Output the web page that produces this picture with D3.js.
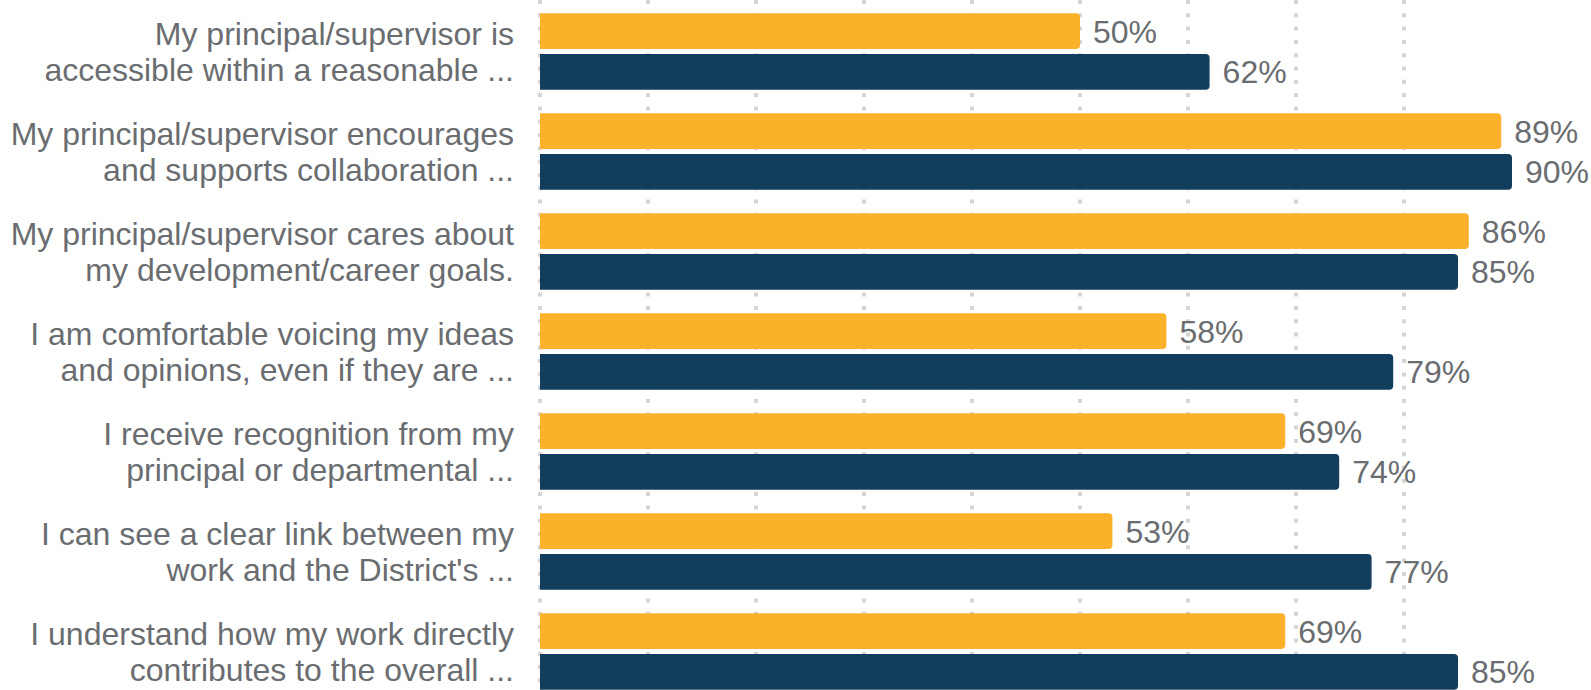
<!DOCTYPE html>
<html>
<head>
<meta charset="utf-8">
<script src="https://cdn.jsdelivr.net/npm/d3@7"></script>
<style>
  body { margin: 0; background: #fff; }
  svg { display: block; }
</style>
</head>
<body>
<div id="chart"></div>
<script>
// survey statements (the chart truncates them to two lines)
const categories = [
  'My principal/supervisor is\naccessible within a reasonable ...',
  'My principal/supervisor encourages\nand supports collaboration ...',
  'My principal/supervisor cares about\nmy development/career goals.',
  'I am comfortable voicing my ideas\nand opinions, even if they are ...',
  'I receive recognition from my\nprincipal or departmental ...',
  'I can see a clear link between my\nwork and the District\'s ...',
  'I understand how my work directly\ncontributes to the overall ...'
];
const seriesNames = ['Series 1', 'Series 2'];
const series1Values = [50, 89, 86, 58, 69, 53, 69];
const series2Values = [62, 90, 85, 79, 74, 77, 85];
const gridTicks = [0, 10, 20, 30, 40, 50, 60, 70, 80];

const config = {
  width: 1591,
  height: 690,
  plotLeft: 540,
  pxPerPercent: 10.8,
  rowTop: 1.3,
  rowStep: 100,
  groupTop: 12,
  groupBottom: 88.5,
  labelRight: 514,
  fontSize: 32,
  lineGap: 35.5,
  colors: ['#fbb12a', '#133d5d'],
  textColor: '#6a6d70',
  gridColor: '#d5d5d5'
};

const data = categories.map((c, i) => ({
  category: c,
  values: [series1Values[i], series2Values[i]]
}));

const svg = d3.select('#chart')
  .append('svg')
  .attr('width', config.width)
  .attr('height', config.height)
  .style('font-family', '"Liberation Sans", Arial, sans-serif');

const x = d3.scaleLinear()
  .domain([0, 100])
  .range([config.plotLeft, config.plotLeft + 100 * config.pxPerPercent]);

const y = d3.scaleBand()
  .domain(categories)
  .range([config.rowTop, config.rowTop + config.rowStep * categories.length])
  .padding(0);

const ySub = d3.scaleBand()
  .domain(seriesNames)
  .range([config.groupTop, config.groupBottom])
  .paddingInner(0.12);

// dotted vertical gridlines
svg.append('g')
  .selectAll('line')
  .data(gridTicks)
  .join('line')
  .attr('x1', d => x(d))
  .attr('x2', d => x(d))
  .attr('y1', 0)
  .attr('y2', config.height)
  .attr('stroke', config.gridColor)
  .attr('stroke-width', 4)
  .attr('stroke-dasharray', '4 9.3');

// bar with rounded right end
function barPath(x0, y0, w, h, r) {
  r = Math.min(r, w);
  return `M${x0},${y0}H${x0 + w - r}Q${x0 + w},${y0} ${x0 + w},${y0 + r}` +
    `V${y0 + h - r}Q${x0 + w},${y0 + h} ${x0 + w - r},${y0 + h}H${x0}Z`;
}

const rows = svg.append('g')
  .selectAll('g')
  .data(data)
  .join('g')
  .attr('transform', d => `translate(0,${y(d.category)})`);

rows.selectAll('path')
  .data(d => d.values.map((v, k) => ({ name: seriesNames[k], value: v, k })))
  .join('path')
  .attr('d', d => barPath(x(0), ySub(d.name), x(d.value) - x(0), ySub.bandwidth(), 4))
  .attr('fill', d => config.colors[d.k]);

// value labels
rows.selectAll('text.value')
  .data(d => d.values.map((v, k) => ({ name: seriesNames[k], value: v })))
  .join('text')
  .attr('class', 'value')
  .attr('x', d => x(d.value) + 13)
  .attr('y', d => ySub(d.name) + ySub.bandwidth() / 2 + config.fontSize * 0.36)
  .attr('font-size', config.fontSize)
  .attr('fill', config.textColor)
  .text(d => d3.format('.0f')(d.value) + '%');

// category labels (two lines, right aligned)
const groupMid = (config.groupTop + config.groupBottom) / 2;
rows.append('text')
  .attr('text-anchor', 'end')
  .attr('font-size', config.fontSize)
  .attr('fill', config.textColor)
  .selectAll('tspan')
  .data(d => d.category.split('\n'))
  .join('tspan')
  .attr('x', config.labelRight)
  .attr('y', (d, i) => groupMid - 6.3 + i * config.lineGap)
  .text(d => d);
</script>
</body>
</html>
